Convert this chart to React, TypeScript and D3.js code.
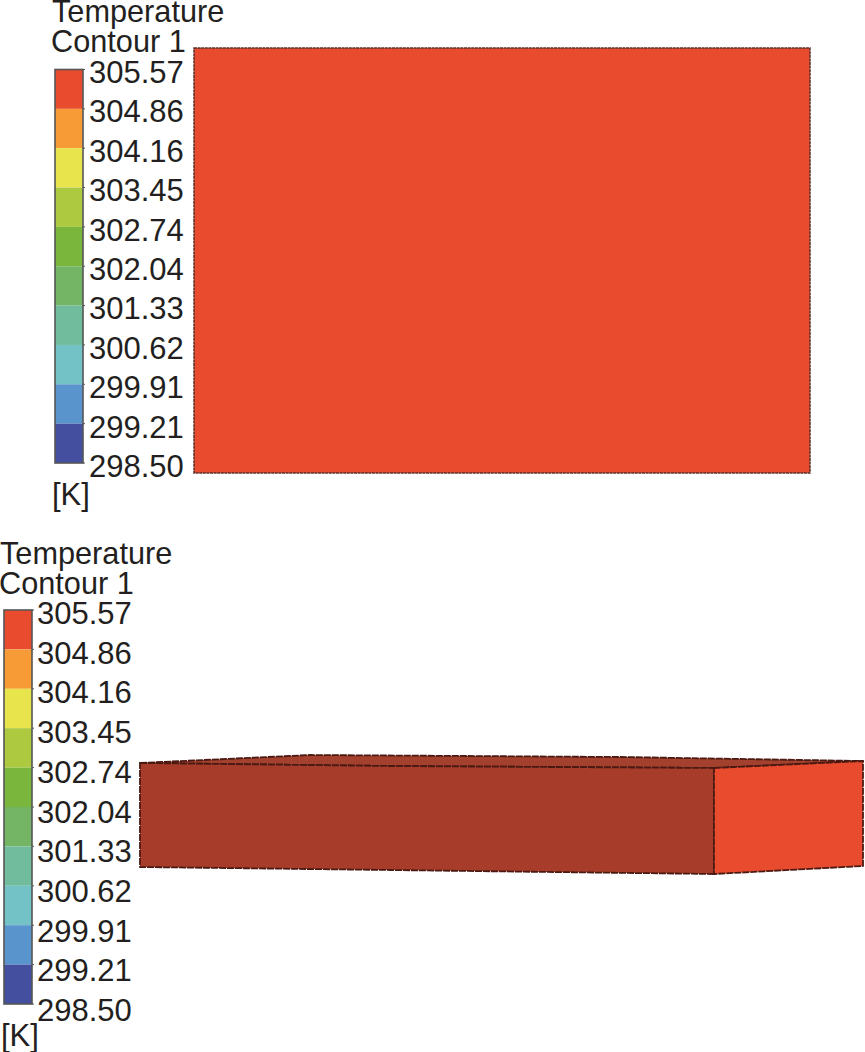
import React from "react";
import * as d3 from "d3";

const tickLabels = ["305.57","304.86","304.16","303.45","302.74","302.04","301.33","300.62","299.91","299.21","298.50"];
const bandColors = ["#e94b2f","#f79b36","#e8e44c","#adc940","#7bb63c","#74b565","#70bc9c","#73c3c6","#5a94cc","#44509f"];
const title = ["Temperature","Contour 1"];
const unit = "[K]";

const topRect: [number, number][] = [[194,48],[810,48],[810,473],[194,473]];
const frontFace: [number, number][] = [[140,763],[390,766],[714,768],[714,874],[390,870],[140,867]];
const topFace: [number, number][] = [[140,763],[310,755],[620,757],[863,761],[714,768],[390,766]];
const sideFace: [number, number][] = [[714,768],[863,761],[863,866],[714,874]];

const line = d3.line().curve(d3.curveLinearClosed);
const font = "'Liberation Sans', Arial, sans-serif";

function Legend({ x, top, bottom, titleY, titleX, unitY, unitX, labelX, labelTop, labelBottom }: any) {
  const y = d3.scaleLinear().domain([0, bandColors.length]).range([top, bottom]);
  const labelY = d3.scaleLinear().domain([0, bandColors.length]).range([labelTop, labelBottom]);
  const w = 28;
  return (
    <g fontFamily={font} fill="#231f20">
      {title.map((t, i) => (
        <text key={t} x={titleX - (i ? 1 : 0)} y={titleY + i * 29.5} fontSize={30.7}>{t}</text>
      ))}
      {bandColors.map((c, i) => (
        <rect key={c} x={x} y={y(i)} width={w} height={y(i + 1) - y(i)} fill={c} />
      ))}
      <rect x={x} y={top} width={w} height={bottom - top} fill="none" stroke="#555" strokeWidth={1.6} />
      {tickLabels.map((t, i) => (
        <g key={t}>
          <line x1={x + w} x2={x + w + 2} y1={y(i)} y2={y(i)} stroke="#555" strokeWidth={1} />
          <text x={labelX} y={labelY(i)} fontSize={31}>{t}</text>
        </g>
      ))}
      <text x={unitX} y={unitY} fontSize={31}>{unit}</text>
    </g>
  );
}

const edge = { stroke: "#4a1a12", strokeWidth: 1.8, strokeDasharray: "7 1", strokeLinejoin: "round" as const };

export default function App() {
  return (
    <svg width={865} height={1052} style={{ position: "absolute", left: 0, top: 0, background: "#fff" }}>
      <Legend x={55} top={69.5} bottom={463} titleX={52} titleY={22} unitX={52} unitY={505} labelX={89} labelTop={83} labelBottom={477} />
      <path d={line(topRect)!} fill="#e94b2f" stroke="#5a3028" strokeWidth={1.5} strokeDasharray="3 0.6" />
      <Legend x={4} top={610} bottom={1004} titleX={0} titleY={564} unitX={1} unitY={1045.5} labelX={37} labelTop={624} labelBottom={1021} />
      <path d={line(topFace)!} fill="#a4412e" {...edge} />
      <path d={line(frontFace)!} fill="#a83c2a" {...edge} />
      <path d={line(sideFace)!} fill="#e94b2f" {...edge} />
    </svg>
  );
}
